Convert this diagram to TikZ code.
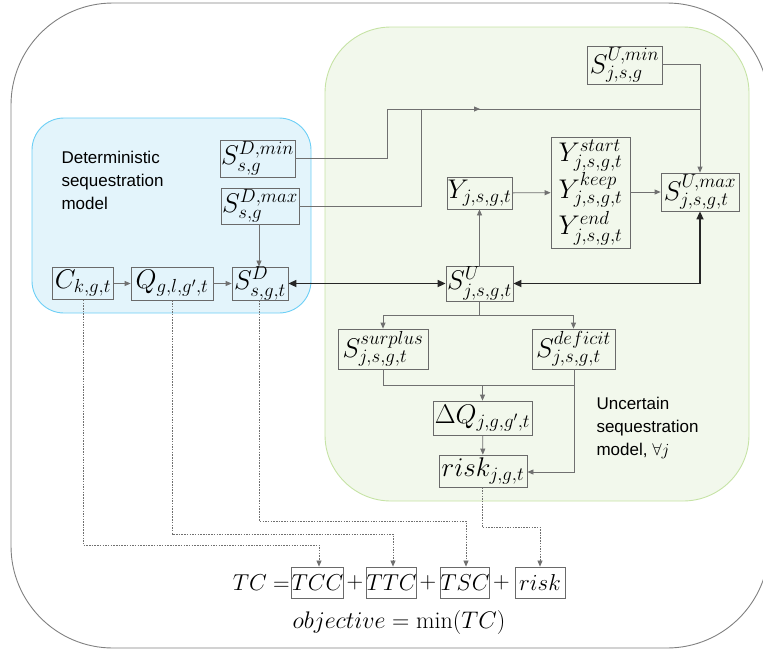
\RequirePackage{fix-cm}
\documentclass[tikz,border=0pt]{standalone}
\usepackage{fontspec}
\newfontfamily\labfont{Liberation Sans}
\usetikzlibrary{arrows.meta}
\definecolor{bluefill}{HTML}{E3F4FB}
\definecolor{blueedge}{HTML}{6CCFF6}
\definecolor{greenfill}{HTML}{F2F8EC}
\definecolor{greenedge}{HTML}{C6E3A5}
\definecolor{boxedge}{HTML}{6A6A6A}
\definecolor{wire}{HTML}{707070}
\begin{document}
\begin{tikzpicture}[x=1pt,y=-1pt,
  var/.style={draw=boxedge,line width=0.8pt,inner sep=0pt,align=center,
    font=\fontsize{27}{36}\selectfont},
  flow/.style={draw=wire,line width=0.8pt,-{Triangle[length=6pt,width=5pt]}},
  plain/.style={draw=wire,line width=0.8pt},
  bold/.style={draw=black!85,line width=1.6pt},
  dot/.style={draw=wire,line width=0.7pt,dash pattern=on 1.5pt off 1.2pt,
    -{Triangle[length=6pt,width=5pt]}},
  eq/.style={font=\fontsize{23}{28}\selectfont},
  label/.style={align=left,anchor=west,font=\labfont\fontsize{17}{23}\selectfont}]
\useasboundingbox (0,0) rectangle (763,649);

% frame and the two model regions
\draw[draw=gray,line width=0.9pt,rounded corners=102pt] (11,3) rectangle (769,648);
\draw[fill=greenfill,draw=greenedge,line width=0.9pt,rounded corners=66pt]
  (325,27) rectangle (749,501);
\draw[fill=bluefill,draw=blueedge,line width=0.9pt,rounded corners=32pt]
  (32,118) rectangle (311,313);

\node[label] (detlab) at (58,180) {Deterministic\\sequestration\\model};
\node[label] (unclab) at (593,428) {Uncertain\\sequestration\\model, $\forall j$};

% deterministic variables
\node[var,minimum width=75pt,minimum height=37pt] (sdmin) at (257.5,158.5) {$S^{D,min}_{s,g}$};
\node[var,minimum width=78pt,minimum height=36pt] (sdmax) at (260,206) {$S^{D,max}_{s,g}$};
\node[var,minimum width=61pt,minimum height=32pt] (c) at (83,283.5) {$C_{k,g,t}$};
\node[var,minimum width=82pt,minimum height=33pt] (q) at (172,283.5) {$Q_{g,l,g',t}$};
\node[var,minimum width=56pt,minimum height=33pt] (sd) at (260,283.5) {$S^{D}_{s,g,t}$};

% uncertain variables
\node[var,minimum width=75pt,minimum height=38pt] (sumin) at (624.5,65) {$S^{U,min}_{j,s,g}$};
\node[var,minimum width=65pt,minimum height=32pt] (y) at (479.5,193) {$Y_{j,s,g,t}$};
\node[var,minimum width=79pt,minimum height=111pt] (ybig) at (590.5,192.5)
  {$Y^{start}_{j,s,g,t}$\\$Y^{keep}_{j,s,g,t}$\\$Y^{end}_{j,s,g,t}$};
\node[var,minimum width=78pt,minimum height=38pt] (sumax) at (700,192) {$S^{U,max}_{j,s,g,t}$};
\node[var,minimum width=67pt,minimum height=35pt] (su) at (479.5,283.5) {$S^{U}_{j,s,g,t}$};
\node[var,minimum width=90pt,minimum height=40pt] (ssur) at (383,349) {$S^{surplus}_{j,s,g,t}$};
\node[var,minimum width=83pt,minimum height=40pt] (sdef) at (573.5,349) {$S^{deficit}_{j,s,g,t}$};
\node[var,minimum width=99pt,minimum height=34pt] (dq) at (482.5,418) {$\Delta Q_{j,g,g',t}$};
\node[var,minimum width=88pt,minimum height=32pt] (risk) at (483,471) {$risk_{j,g,t}$};

% objective
\node[eq,anchor=east,inner sep=0pt] (tc) at (290,582.5) {$TC=$};
\node[var,eq,minimum width=47pt,minimum height=31pt] (tcc) at (317.5,582.5) {$TCC$};
\node[eq,inner sep=0pt] (p1) at (355,582.5) {$+$};
\node[var,eq,minimum width=45pt,minimum height=31pt] (ttc) at (391.5,582.5) {$TTC$};
\node[eq,inner sep=0pt] (p2) at (428,582.5) {$+$};
\node[var,eq,minimum width=46pt,minimum height=31pt] (tsc) at (465,582.5) {$TSC$};
\node[eq,inner sep=0pt] (p3) at (501.5,582.5) {$+$};
\node[var,eq,minimum width=50pt,minimum height=31pt] (riskt) at (540,582.5) {$risk$};
\node[eq,font=\fontsize{24}{28}\selectfont] (obj) at (399,622) {$objective=\min(TC)$};

% bounds feeding the uncertain maximum
\coordinate (join) at (700,109);
\draw[plain] (sdmin.east) -- (387,158.5) -- (387,109) -- (join);
\draw[plain] (sdmax.east |- 0,206) -- (421,206) -- (421,109);
\draw[flow] (421,109) -- (480,109);
\draw[plain] (sumin.east |- 0,64) -- (700,64) -- (join);
\draw[flow] (join) -- (sumax.north -| join);

% deterministic chain
\draw[flow] (c) -- (q);
\draw[flow] (q) -- (sd);
\draw[flow] (sdmax.south -| 259,0) -- (sd.north -| 259,0);

% coupling between the two models
\draw[bold,{Triangle[length=8pt,width=7pt]}-{Triangle[length=8pt,width=7pt]}] (sd.east) -- (su.west);
\draw[bold,{Triangle[length=8pt,width=7pt]}-{Triangle[length=8pt,width=7pt]}]
  (su.east) -- (700,283.5) -- (sumax.south -| 700,0);

% uncertain chain
\draw[flow] (su) -- (y);
\draw[flow] (y) -- (ybig);
\draw[flow] (ybig.east |- 0,192) -- (sumax.west);
\draw[plain] (su.south) -- (479.5,315) coordinate (split);
\draw[flow] (split) -| (ssur.north);
\draw[flow] (split) -| (sdef.north);
\draw[plain] (ssur.south) -- (383,385) -- (574,385);
\draw[plain] (sdef.south -| 574,0) -- (574,385);
\draw[flow] (482.5,385) -- (dq.north);
\draw[flow] (dq) -- (risk);
\draw[flow] (574,385) -- (574,472) -- (risk.east |- 0,472);

% cost terms collected into the objective
\draw[dot] (c.south) -- (83,545) -| (tcc.north -| 319,0);
\draw[dot] (q.south) -- (172,534) -| (ttc.north -| 393,0);
\draw[dot] (sd.south -| 259,0) -- (259,521) -| (tsc.north -| 466,0);
\draw[dot] (risk.south -| 482,0) -- (482,527) -| (riskt.north -| 540,0);
\end{tikzpicture}
\end{document}
